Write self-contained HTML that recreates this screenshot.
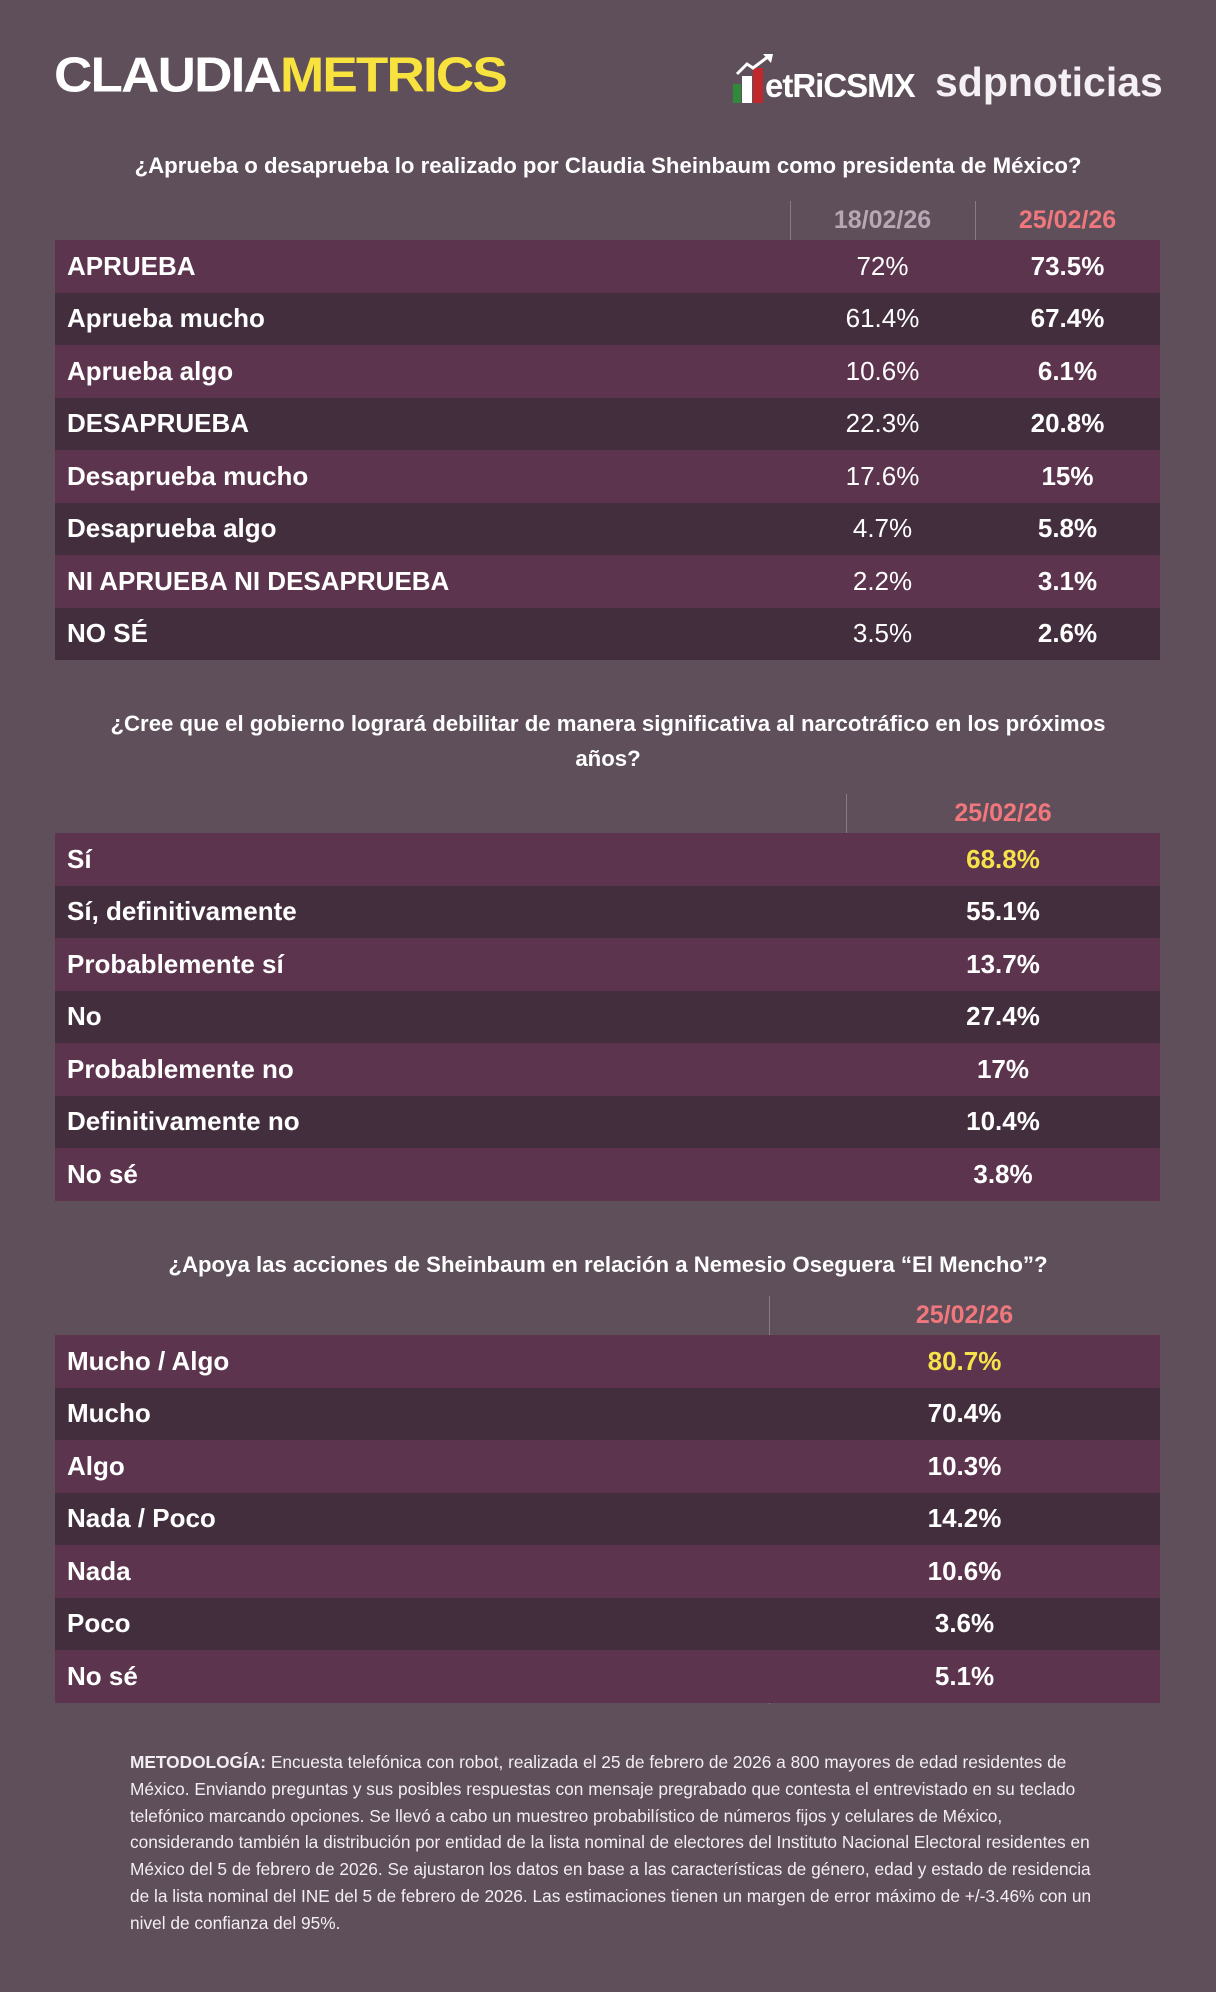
<!DOCTYPE html>
<html><head><meta charset="utf-8"><style>
*{margin:0;padding:0;box-sizing:border-box}
body{width:1216px;height:1992px;background:#5f4f5b;font-family:"Liberation Sans",Arial,sans-serif;color:#fff;position:relative;overflow:hidden}
.abs{position:absolute}
.q{position:absolute;left:40px;width:1136px;text-align:center;font-weight:bold;font-size:22.2px;line-height:35px}
.tbl{position:absolute;left:55px;width:1105px}
.row{height:52.5px;display:flex;align-items:center;font-weight:bold;font-size:26px;position:relative}
.row.o{background:#5c344e}.row.e{background:#432e3e}
.row .l{padding-left:12px;flex:1}
.c{position:absolute;top:0;height:100%;display:flex;align-items:center;justify-content:center}
.hdr{height:39px;position:relative;font-weight:bold;font-size:25px}
.vl{position:absolute;width:1px;background:#8a7a86}
.y{color:#f6e34a}
</style></head><body>
<div class="abs" style="left:54px;top:50px;font-size:58px;font-weight:900;letter-spacing:-2px;line-height:60px;transform:scale(0.915,0.85);transform-origin:top left">CLAUDIA<span style="color:#f7e23e">METRICS</span></div>
<div class="abs" style="left:733px;top:60px;width:180px;height:45px">
<div class="abs" style="left:0;top:24px;width:8px;height:19px;background:#2f8a3a"></div>
<div class="abs" style="left:9px;top:16px;width:10px;height:27px;background:#fff"></div>
<div class="abs" style="left:20px;top:8px;width:10px;height:35px;background:#c0282b"></div>
<svg class="abs" style="left:2px;top:-6px" width="40" height="24"><polyline points="2,20 12,10 18,14 34,2" stroke="#fff" stroke-width="3" fill="none"/><polygon points="28,0 38,0 36,9" fill="#fff"/></svg>
<div class="abs" style="left:32px;top:8px;font-size:33px;font-weight:bold;line-height:36px;letter-spacing:-1px">etRiCSMX</div>
</div>
<div class="abs" style="left:935px;top:57px;font-size:41px;font-weight:bold;color:#f4f0f3;line-height:50px">sdpnoticias</div>

<div class="q" style="top:148px">¿Aprueba o desaprueba lo realizado por Claudia Sheinbaum como presidenta de México?</div>
<div class="tbl" style="top:201px">
<div class="vl" style="left:735px;top:0;height:458px"></div><div class="vl" style="left:920px;top:0;height:458px"></div>
<div class="hdr"><div class="c" style="left:735px;width:185px;color:#b7a6b3">18/02/26</div><div class="c" style="left:920px;width:185px;color:#f0787c">25/02/26</div></div>
<div class="row o"><div class="l">APRUEBA</div><div class="c" style="left:735px;width:185px;font-weight:normal">72%</div><div class="c" style="left:920px;width:185px">73.5%</div></div>
<div class="row e"><div class="l">Aprueba mucho</div><div class="c" style="left:735px;width:185px;font-weight:normal">61.4%</div><div class="c" style="left:920px;width:185px">67.4%</div></div>
<div class="row o"><div class="l">Aprueba algo</div><div class="c" style="left:735px;width:185px;font-weight:normal">10.6%</div><div class="c" style="left:920px;width:185px">6.1%</div></div>
<div class="row e"><div class="l">DESAPRUEBA</div><div class="c" style="left:735px;width:185px;font-weight:normal">22.3%</div><div class="c" style="left:920px;width:185px">20.8%</div></div>
<div class="row o"><div class="l">Desaprueba mucho</div><div class="c" style="left:735px;width:185px;font-weight:normal">17.6%</div><div class="c" style="left:920px;width:185px">15%</div></div>
<div class="row e"><div class="l">Desaprueba algo</div><div class="c" style="left:735px;width:185px;font-weight:normal">4.7%</div><div class="c" style="left:920px;width:185px">5.8%</div></div>
<div class="row o"><div class="l">NI APRUEBA NI DESAPRUEBA</div><div class="c" style="left:735px;width:185px;font-weight:normal">2.2%</div><div class="c" style="left:920px;width:185px">3.1%</div></div>
<div class="row e"><div class="l">NO SÉ</div><div class="c" style="left:735px;width:185px;font-weight:normal">3.5%</div><div class="c" style="left:920px;width:185px">2.6%</div></div>
</div>

<div class="q" style="top:706px">¿Cree que el gobierno logrará debilitar de manera significativa al narcotráfico en los próximos<br>años?</div>
<div class="tbl" style="top:794px">
<div class="vl" style="left:791px;top:0;height:406px"></div>
<div class="hdr"><div class="c" style="left:791px;width:314px;color:#f0787c">25/02/26</div></div>
<div class="row o"><div class="l">Sí</div><div class="c y" style="left:791px;width:314px">68.8%</div></div>
<div class="row e"><div class="l">Sí, definitivamente</div><div class="c" style="left:791px;width:314px">55.1%</div></div>
<div class="row o"><div class="l">Probablemente sí</div><div class="c" style="left:791px;width:314px">13.7%</div></div>
<div class="row e"><div class="l">No</div><div class="c" style="left:791px;width:314px">27.4%</div></div>
<div class="row o"><div class="l">Probablemente no</div><div class="c" style="left:791px;width:314px">17%</div></div>
<div class="row e"><div class="l">Definitivamente no</div><div class="c" style="left:791px;width:314px">10.4%</div></div>
<div class="row o"><div class="l">No sé</div><div class="c" style="left:791px;width:314px">3.8%</div></div>
</div>

<div class="q" style="top:1247px">¿Apoya las acciones de Sheinbaum en relación a Nemesio Oseguera “El Mencho”?</div>
<div class="tbl" style="top:1296px">
<div class="vl" style="left:714px;top:0;height:408px"></div>
<div class="hdr"><div class="c" style="left:714px;width:391px;color:#f0787c">25/02/26</div></div>
<div class="row o"><div class="l">Mucho / Algo</div><div class="c y" style="left:714px;width:391px">80.7%</div></div>
<div class="row e"><div class="l">Mucho</div><div class="c" style="left:714px;width:391px">70.4%</div></div>
<div class="row o"><div class="l">Algo</div><div class="c" style="left:714px;width:391px">10.3%</div></div>
<div class="row e"><div class="l">Nada / Poco</div><div class="c" style="left:714px;width:391px">14.2%</div></div>
<div class="row o"><div class="l">Nada</div><div class="c" style="left:714px;width:391px">10.6%</div></div>
<div class="row e"><div class="l">Poco</div><div class="c" style="left:714px;width:391px">3.6%</div></div>
<div class="row o"><div class="l">No sé</div><div class="c" style="left:714px;width:391px">5.1%</div></div>
</div>

<div class="abs" style="left:130px;top:1749px;width:985px;font-size:17.3px;line-height:26.8px;color:#f2eef1"><b>METODOLOGÍA:</b> Encuesta telefónica con robot, realizada el 25 de febrero de 2026 a 800 mayores de edad residentes de<br>México. Enviando preguntas y sus posibles respuestas con mensaje pregrabado que contesta el entrevistado en su teclado<br>telefónico marcando opciones. Se llevó a cabo un muestreo probabilístico de números fijos y celulares de México,<br>considerando también la distribución por entidad de la lista nominal de electores del Instituto Nacional Electoral residentes en<br>México del 5 de febrero de 2026. Se ajustaron los datos en base a las características de género, edad y estado de residencia<br>de la lista nominal del INE del 5 de febrero de 2026. Las estimaciones tienen un margen de error máximo de +/-3.46% con un<br>nivel de confianza del 95%.</div>
</body></html>
